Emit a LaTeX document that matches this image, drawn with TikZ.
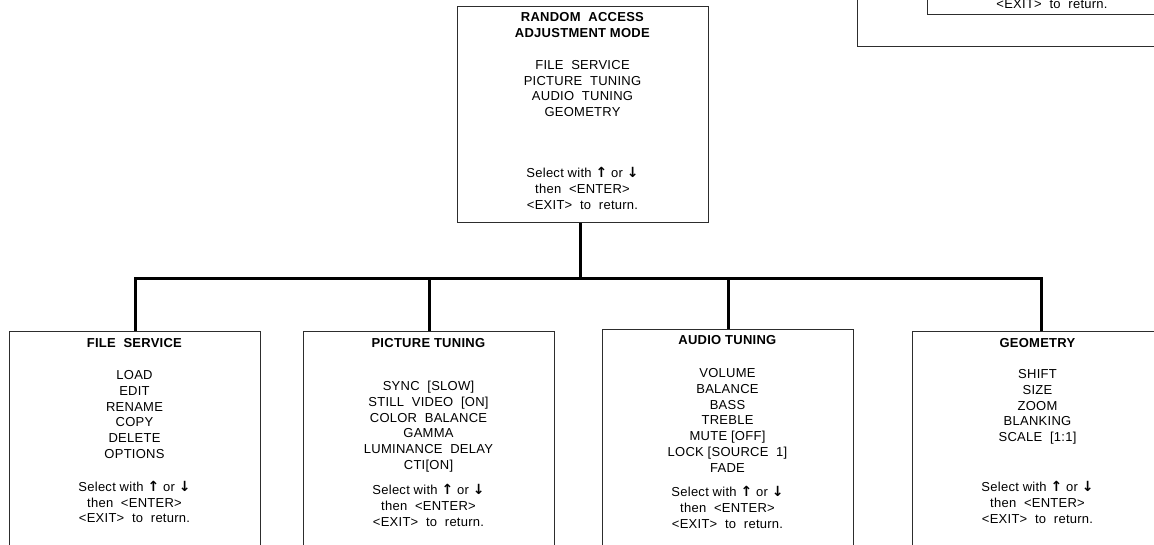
\documentclass[tikz,border=0pt]{standalone}
\usepackage{fontspec}
\setmainfont{Liberation Sans}[LetterSpace=2]
\newfontfamily\keyfont{DejaVu Sans}
\usetikzlibrary{positioning}
\definecolor{FrameGray}{RGB}{45,45,45}
\tikzset{
  panel/.style={draw=FrameGray, line width=1.3pt, minimum width=251pt, inner sep=0pt, anchor=north west},
  menu/.style={anchor=north, align=center, inner sep=0pt, font=\fontsize{13}{15.8}\selectfont},
  link/.style={line width=3pt},
}
\newcommand{\upkey}{{\keyfont\bfseries\fontsize{14}{15.8}\selectfont ↑}}
\newcommand{\downkey}{{\keyfont\bfseries\fontsize{14}{15.8}\selectfont ↓}}
\newcommand{\selecthint}{Select with \upkey{} or \downkey\\ then~ <ENTER>\\ <EXIT>~ to~ return.}

\begin{document}
\begin{tikzpicture}[x=1pt, y=-1pt]
  \useasboundingbox (0,0) rectangle (1154,544);
  \clip (0,0) rectangle (1154,544);

  % part of the previous screen, cut by the page edge
  \node[panel, minimum width=400pt, minimum height=200pt, anchor=south west] (prevframe) at (857,47) {};
  \node[panel, minimum width=250pt, minimum height=100pt, anchor=south west] (prevmenu) at (927,15) {};
  \node[menu, anchor=base] (prevtext) at (1052,8.7) {<EXIT>~ to~ return.};

  % main menu
  \node[panel, minimum height=216pt] (ram) at (457,6) {};
  \node[menu] (ramtext) at (582.5,12.3) {\textbf{RANDOM~ ACCESS}\\ \textbf{ADJUSTMENT MODE}\\[16.2pt]
    FILE~ SERVICE\\ PICTURE~ TUNING\\ AUDIO~ TUNING\\ GEOMETRY\\[45pt] \selecthint};

  % sub menus
  \node[panel, minimum height=240pt] (file) at (9,331) {};
  \node[panel, minimum height=240pt] (pict) at (303,331) {};
  \node[panel, minimum height=240pt] (audio) at (602,329) {};
  \node[panel, minimum height=240pt] (geom) at (912,331) {};

  \node[menu] (filetext) at (134.5,338.3) {\textbf{FILE~ SERVICE}\\[16.2pt]
    LOAD\\ EDIT\\ RENAME\\ COPY\\ DELETE\\ OPTIONS\\[17pt] \selecthint};
  \node[menu] (picttext) at (428.5,338.3) {\textbf{PICTURE TUNING}\\[27.2pt]
    SYNC~ [SLOW]\\ STILL~ VIDEO~ [ON]\\ COLOR~ BALANCE\\ GAMMA\\ LUMINANCE~ DELAY\\ CTI[ON]\\[9.2pt] \selecthint};
  \node[menu] (audiotext) at (727.5,335.3) {\textbf{AUDIO TUNING}\\[17.2pt]
    VOLUME\\ BALANCE\\ BASS\\ TREBLE\\ MUTE [OFF]\\ LOCK [SOURCE~ 1]\\ FADE\\[8.4pt] \selecthint};
  \node[menu] (geomtext) at (1037.5,338.3) {\textbf{GEOMETRY}\\[15.2pt]
    SHIFT\\ SIZE\\ ZOOM\\ BLANKING\\ SCALE~ [1:1]\\[34pt] \selecthint};

  % connectors
  \coordinate (bus) at (580,278);
  \draw[link] (bus |- ram.south) -- (bus);
  \draw[link] (file.north) -- (file.north |- bus) -- ([xshift=3.5pt]geom.north |- bus) -- ([xshift=3.5pt]geom.north);
  \draw[link] (pict.north) -- (pict.north |- bus);
  \draw[link] (audio.north) -- (audio.north |- bus);
\end{tikzpicture}
\end{document}
